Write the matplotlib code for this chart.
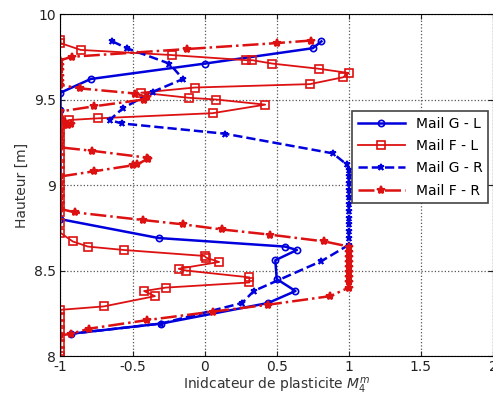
import matplotlib
matplotlib.use("Agg")
import matplotlib.pyplot as plt

# Mail G - L
gl_x = [0.81, 0.75, 0.0, -0.79, -1.0, -1.0, -1.0, -0.32, 0.557, 0.64, 0.49, 0.50, 0.63, 0.44, -0.30, -0.93]
gl_y = [9.84, 9.80, 9.71, 9.62, 9.54, 9.44, 8.80, 8.69, 8.64, 8.62, 8.56, 8.45, 8.38, 8.31, 8.19, 8.13]

# Mail F - L
fl_x = [-1, -1, -0.86, -0.23, 0.29, 0.33, 0.47, 0.79, 1.0, 0.96, 0.73, -0.07, -0.44, -0.11, 0.08, 0.42,
        0.055, -0.74, -0.94, -1, -1, -1, -1, -1, -1, -1, -1, -1, -1, -1, -1, -1, -1, -1, -1,
        -0.915, -0.81, -0.56, 0.0, 0.01, 0.10, -0.18, -0.13, 0.31, 0.31, -0.27, -0.42, -0.345, -0.70,
        -1, -1, -1, -1, -1, -1, -1, -1]
fl_y = [9.85, 9.83, 9.79, 9.76, 9.73, 9.73, 9.71, 9.68, 9.655, 9.63, 9.59, 9.57, 9.54, 9.51, 9.50, 9.47,
        9.42, 9.39, 9.38, 9.36, 9.32, 9.28, 9.24, 9.20, 9.16, 9.12, 9.08, 9.04, 9.00, 8.96, 8.92, 8.88, 8.84, 8.78, 8.72,
        8.67, 8.64, 8.62, 8.585, 8.575, 8.55, 8.51, 8.50, 8.46, 8.43, 8.40, 8.38, 8.35, 8.29,
        8.27, 8.23, 8.19, 8.15, 8.11, 8.07, 8.03, 8.0]

# Mail G - R
gr_x = [-0.64, -0.54, -0.245, -0.15, -0.36, -0.565, -0.66, -0.575, 0.14, 0.89, 0.985,
        1, 1, 1, 1, 1, 1, 1, 1, 1, 1, 1, 1, 0.81, 0.34, 0.26, -0.30, -0.93]
gr_y = [9.84, 9.80, 9.71, 9.62, 9.545, 9.45, 9.38, 9.36, 9.30, 9.185, 9.12,
        9.09, 9.05, 9.01, 8.97, 8.93, 8.89, 8.85, 8.81, 8.77, 8.73, 8.69, 8.65, 8.555, 8.38, 8.31, 8.19, 8.13]

# Mail F - R
fr_x = [0.74, 0.5, -0.125, -0.92, -1, -1, -1, -1, -1, -1, -0.865, -0.48, -0.40, -0.42, -0.77, -1,
        -0.97, -0.95, -0.93, -1, -1, -1, -1, -0.78, -0.40, -0.39, -0.47, -0.50, -0.77, -1,
        -1, -1, -1, -1, -1, -0.90, -0.425, -0.15, 0.12, 0.45, 0.83,
        1, 1, 1, 1, 1, 1, 1, 1, 1, 0.87, 0.44, 0.06, -0.40, -0.80, -0.93, -1]
fr_y = [9.845, 9.83, 9.795, 9.75, 9.73, 9.70, 9.67, 9.64, 9.61, 9.585, 9.565, 9.535, 9.515, 9.50, 9.46, 9.43,
        9.37, 9.35, 9.355, 9.32, 9.28, 9.24, 9.22, 9.20, 9.16, 9.155, 9.12, 9.115, 9.08, 9.05,
        9.01, 8.97, 8.93, 8.89, 8.86, 8.84, 8.795, 8.77, 8.74, 8.71, 8.67,
        8.64, 8.61, 8.58, 8.55, 8.52, 8.49, 8.46, 8.43, 8.40, 8.35, 8.30, 8.26, 8.21, 8.16, 8.13, 8.12]

blue = "#0000dd"
red = "#dd1111"

fig = plt.figure(figsize=(4.93, 3.98), dpi=100)
ax = fig.add_axes([0.1227, 0.1055, 0.8773, 0.8593])

ax.plot(gl_x, gl_y, "-o", color=blue, lw=1.8, ms=4.5, mfc="none", mew=1.2, label="Mail G - L")
ax.plot(fl_x, fl_y, "-s", color=red, lw=1.3, ms=5.5, mfc="none", mew=1.2, label="Mail F - L")
ax.plot(gr_x, gr_y, "--*", color=blue, lw=1.8, ms=5, mew=1.2, label="Mail G - R")
ax.plot(fr_x, fr_y, "-.*", color=red, lw=1.8, ms=6, mew=1.5, label="Mail F - R")

ax.set_xlim(-1, 2)
ax.set_ylim(8, 10)
ax.set_xticks([-1, -0.5, 0, 0.5, 1, 1.5, 2])
ax.set_xticklabels(["-1", "-0.5", "0", "0.5", "1", "1.5", "2"])
ax.set_yticks([8, 8.5, 9, 9.5, 10])
ax.set_yticklabels(["8", "8.5", "9", "9.5", "10"])
ax.tick_params(direction="in", top=True, right=True, labelsize=10, pad=3, colors="#222222")
ax.grid(True, linestyle=":", color="#555555", lw=0.9)

ax.set_xlabel("Inidcateur de plasticite $M_4^m$", fontsize=10, color="#333333", labelpad=1)
ax.set_ylabel("Hauteur [m]", fontsize=10, color="#333333", labelpad=4)

leg = ax.legend(loc="upper left", bbox_to_anchor=(0.674, 0.716), borderaxespad=0,
                fancybox=False, edgecolor="#444444", framealpha=1, fontsize=10,
                handlelength=3.4, labelspacing=0.6)
leg.get_frame().set_linewidth(1.2)

fig.savefig("out.png", dpi=100)
